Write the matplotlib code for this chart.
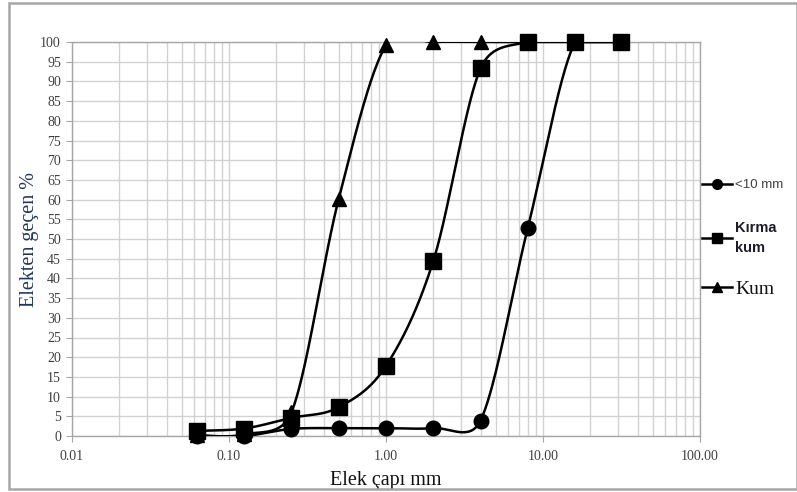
import numpy as np
import matplotlib
matplotlib.use("Agg")
import matplotlib.pyplot as plt
from matplotlib.lines import Line2D
from matplotlib.patches import Rectangle
from matplotlib.ticker import FixedLocator, FixedFormatter, NullFormatter

# Sieve sizes (mm) and percent passing for each material
sieve_mm = [0.063, 0.125, 0.25, 0.5, 1, 2, 4, 8, 16, 31.5]
pass_lt10 = [0, 0, 1.8, 2, 2, 2, 3.9, 52.8, 100, 100]
pass_kirma = [1.3, 1.9, 4.6, 7.3, 17.8, 44.4, 93.3, 100, 100, 100]
pass_kum = [0.2, 0.4, 6, 60.2, 99.2, 100, 100, 100, 100, 100]

series_labels = ["<10 mm", "K\u0131rma\nkum", "Kum"]

x_ticks = [0.01, 0.1, 1, 10, 100]
x_tick_labels = ["0.01", "0.10", "1.00", "10.00", "100.00"]
y_ticks = list(range(0, 101, 5))

W, H = 797, 492
fig = plt.figure(figsize=(W / 100, H / 100), dpi=100)
ax = fig.add_axes([72 / W, 1 - 436 / H, (700 - 72) / W, (436 - 42) / H])
ax.set_xscale("log")
ax.set_xlim(0.01, 100)
ax.set_ylim(0, 100)

grid_c = "#d2d2d2"
ax.xaxis.set_major_locator(FixedLocator(x_ticks))
ax.xaxis.set_major_formatter(FixedFormatter(x_tick_labels))
minor = [m * 10.0 ** e for e in range(-2, 2) for m in range(2, 10)]
ax.xaxis.set_minor_locator(FixedLocator(minor))
ax.xaxis.set_minor_formatter(NullFormatter())
ax.yaxis.set_major_locator(FixedLocator(y_ticks))
ax.grid(True, which="major", axis="both", color=grid_c, lw=1.0, zorder=0)
ax.grid(True, which="minor", axis="x", color=grid_c, lw=1.0, zorder=0)
ax.set_axisbelow(True)
for s in ax.spines.values():
    s.set_color("#a6a6a6")
    s.set_linewidth(1.0)
ax.tick_params(axis="both", which="major", length=4, color="#a6a6a6",
               labelcolor="#404040", labelsize=10)
ax.tick_params(axis="x", which="minor", length=0)
for lbl in ax.get_xticklabels() + ax.get_yticklabels():
    lbl.set_family("Liberation Serif")
ax.tick_params(axis="x", pad=6)
ax.tick_params(axis="y", pad=4)

ax.set_xlabel("Elek \u00e7ap\u0131 mm", family="Liberation Serif", fontsize=14.5,
              color="#111111", labelpad=6)
ax.set_ylabel("Elekten ge\u00e7en %", family="Liberation Serif", fontsize=14.5,
              color="#1f3560", labelpad=1)


def smooth_curve(xs, ys, n=60):
    """Bezier smoothing in display space, with control arms limited to half a segment."""
    pts = ax.transData.transform(np.column_stack([xs, ys]))
    N = len(pts)
    f = 1.0 / 6.0
    out = [pts[:1]]
    t = np.linspace(0, 1, n)[1:, None]
    for i in range(N - 1):
        p0 = pts[max(i - 1, 0)]
        p1 = pts[i]
        p2 = pts[i + 1]
        p3 = pts[min(i + 2, N - 1)]
        d12 = np.hypot(*(p2 - p1))
        d02 = np.hypot(*(p2 - p0))
        d13 = np.hypot(*(p3 - p1))
        f1 = f if d02 * f <= d12 / 2 else d12 / (2 * d02)
        f2 = f if d13 * f <= d12 / 2 else d12 / (2 * d13)
        c1 = p1 + f1 * (p2 - p0)
        c2 = p2 - f2 * (p3 - p1)
        seg = ((1 - t) ** 3) * p1 + 3 * ((1 - t) ** 2) * t * c1 \
            + 3 * (1 - t) * t ** 2 * c2 + t ** 3 * p2
        out.append(seg)
    curve = ax.transData.inverted().transform(np.vstack(out))
    return curve[:, 0], curve[:, 1]


lw = 1.8
styles = [
    (pass_lt10, "o", 10.5, 3),
    (pass_kum, "^", 10, 4),
    (pass_kirma, "s", 11.5, 5),
]
for vals, mk, ms, z in styles:
    cx, cy = smooth_curve(sieve_mm, vals)
    ax.plot(cx, cy, color="black", lw=lw, zorder=z, solid_capstyle="round")
    ax.plot(sieve_mm, vals, linestyle="none", marker=mk, ms=ms, color="black",
            zorder=z + 0.5, clip_on=False)

# Legend entries, one per row, to the right of the plot area
legend_specs = [
    ("o", series_labels[0], dict(family="Liberation Sans", size=9.5), "#404040", 185, 1.2),
    ("s", series_labels[1], dict(family="Liberation Sans", size=10.5, weight="bold"), "#1c1c2a", 238, 1.55),
    ("^", series_labels[2], dict(family="Liberation Serif", size=14), "#111111", 289, 1.2),
]
for mk, text, prop, col, ypix, spacing in legend_specs:
    handle = Line2D([], [], color="black", lw=1.8, marker=mk, ms=7)
    fs_px = prop["size"] * 100 / 72
    leg = fig.legend([handle], [text], loc="center left",
                     bbox_to_anchor=(702 / W, 1 - ypix / H),
                     bbox_transform=fig.transFigure, frameon=False,
                     borderpad=0, borderaxespad=0,
                     handlelength=30 / fs_px, handletextpad=0.2,
                     prop=prop)
    for tx in leg.get_texts():
        tx.set_color(col)
        tx.set_linespacing(spacing)

fig.patches.append(Rectangle((9 / W, 3 / H), (W - 9) / W, (489 - 3) / H,
                             transform=fig.transFigure, fill=False,
                             edgecolor="#a6a6a6", lw=1.8))

fig.savefig("out.png", dpi=100)
